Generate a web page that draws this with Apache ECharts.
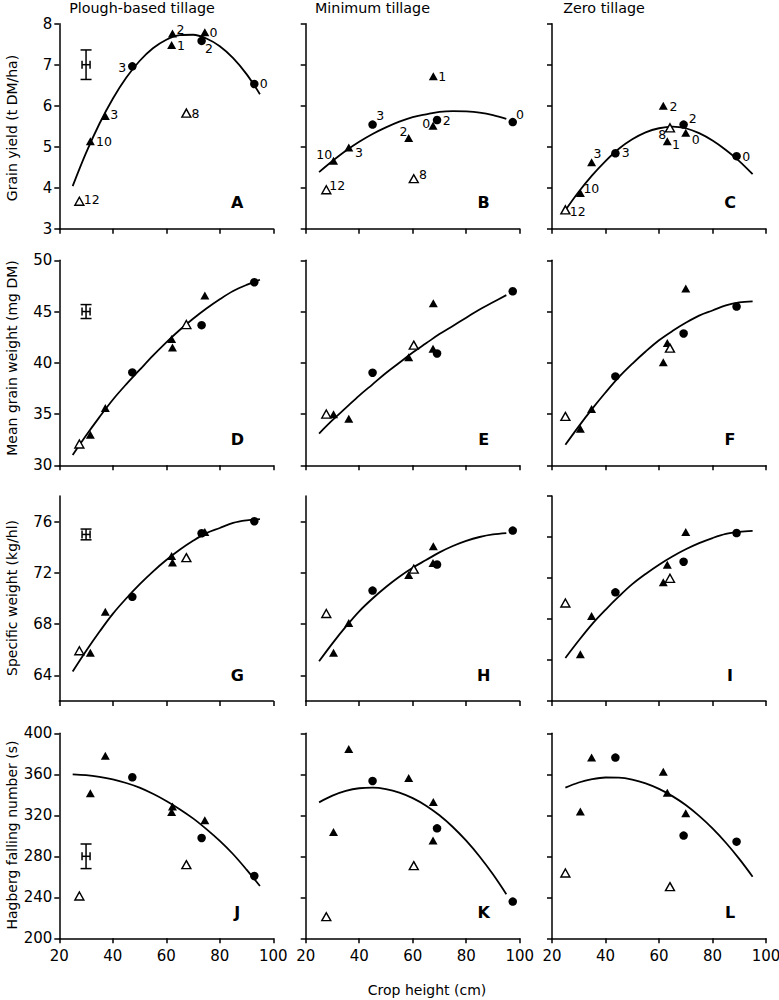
<!DOCTYPE html>
<html><head><meta charset="utf-8">
<script src="https://cdn.jsdelivr.net/npm/echarts@6/dist/echarts.min.js"></script>
<style>html,body{margin:0;padding:0;background:#fff}#c{width:779px;height:1000px}</style>
</head><body><div id="c"></div>
<script>
// ---------------- DATA ----------------
// crop heights (cm) of the ten points in each tillage system
const heightPlough  = [27.5, 31.6, 37.2, 47.3, 62.0, 62.3, 67.5, 73.2, 74.4, 92.9];
const heightMinimum = [27.7, 30.4, 36.1, 45.0, 58.5, 60.4, 67.6, 67.7, 69.1, 97.4];
const heightZero    = [25.0, 30.6, 34.8, 43.7, 61.6, 63.1, 64.1, 69.2, 70.0, 89.0];
// marker kind for each point
const markerPlough  = ['open','tri','tri','circle','tri','tri','open','circle','tri','circle'];
const markerMinimum = ['open','tri','tri','circle','tri','open','tri','tri','circle','circle'];
const markerZero    = ['open','tri','tri','circle','tri','tri','open','circle','tri','circle'];
// point labels (shown in the grain-yield row)
const labelPlough  = ['12','10','3','3','1','2','8','2','0','0'];
const labelMinimum = ['12','10','3','3','2','8','0','1','2','0'];
const labelZero    = ['12','10','3','3','2','1','8','2','0','0'];

// Grain yield (t DM/ha)
const yieldPlough  = [3.67, 5.13, 5.75, 6.96, 7.48, 7.76, 5.82, 7.58, 7.79, 6.53];
const yieldMinimum = [3.95, 4.66, 4.98, 5.54, 5.21, 4.22, 5.51, 6.72, 5.65, 5.60];
const yieldZero    = [3.46, 3.87, 4.62, 4.84, 6.00, 5.13, 5.46, 5.54, 5.34, 4.77];
// Mean grain weight (mg DM)
const grainWtPlough  = [32.08, 32.99, 35.58, 39.06, 42.31, 41.49, 43.73, 43.67, 46.56, 47.86];
const grainWtMinimum = [35.00, 34.97, 34.55, 39.03, 40.55, 41.72, 41.36, 45.81, 40.91, 46.98];
const grainWtZero    = [34.77, 33.57, 35.49, 38.67, 40.06, 41.92, 41.43, 42.86, 47.24, 45.49];
// Specific weight (kg/hl)
const specWtPlough  = [65.92, 65.77, 68.96, 70.13, 73.32, 72.81, 73.19, 75.09, 75.20, 76.03];
const specWtMinimum = [68.83, 65.77, 68.08, 70.62, 71.84, 72.29, 72.78, 74.08, 72.65, 75.30];
const specWtZero    = [69.56, 64.55, 68.29, 70.60, 71.58, 73.30, 71.97, 73.59, 76.49, 76.39];
// Hagberg falling number (s)
const hagbergPlough  = [241.3, 341.5, 378.2, 357.1, 323.3, 328.5, 271.9, 297.9, 315.1, 260.8];
const hagbergMinimum = [221.1, 303.7, 384.7, 353.5, 356.4, 270.9, 295.3, 333.0, 307.3, 235.8];
const hagbergZero    = [263.7, 323.6, 376.3, 376.3, 362.6, 342.1, 250.4, 300.2, 322.0, 294.3];

// fitted curves, read at these crop heights
const curveHeight = [25, 30, 35, 40, 45, 50, 55, 60, 65, 70, 75, 80, 85, 90, 95];
const fitYieldPlough  = [4.04, 4.85, 5.56, 6.17, 6.68, 7.09, 7.40, 7.61, 7.72, 7.73, 7.64, 7.45, 7.16, 6.77, 6.28];
const fitYieldMinimum = [4.38, 4.65, 4.90, 5.12, 5.31, 5.47, 5.61, 5.72, 5.79, 5.85, 5.87, 5.86, 5.83, 5.77, 5.68];
const fitYieldZero    = [3.45, 3.90, 4.30, 4.65, 4.95, 5.18, 5.35, 5.45, 5.49, 5.45, 5.33, 5.15, 4.92, 4.65, 4.33];
const fitGrainPlough  = [31.0, 32.9, 34.7, 36.4, 37.9, 39.3, 40.7, 42.0, 43.2, 44.3, 45.3, 46.2, 47.0, 47.6, 48.1];
const fitGrainMinimum = [33.1, 34.4, 35.6, 36.8, 37.9, 39.0, 40.0, 41.0, 41.9, 42.8, 43.6, 44.4, 45.2, 45.9, 46.6];
const fitGrainZero    = [32.0, 33.8, 35.5, 37.1, 38.6, 39.9, 41.1, 42.2, 43.1, 43.9, 44.6, 45.1, 45.6, 45.9, 46.0];
const fitSpecPlough   = [64.3, 65.9, 67.4, 68.8, 70.0, 71.1, 72.1, 73.0, 73.8, 74.5, 75.1, 75.5, 75.9, 76.1, 76.2];
const fitSpecMinimum  = [65.1, 66.5, 67.8, 69.0, 70.0, 70.9, 71.7, 72.4, 73.0, 73.6, 74.1, 74.5, 74.8, 75.0, 75.1];
const fitSpecZero     = [64.2, 65.9, 67.5, 68.9, 70.2, 71.4, 72.4, 73.3, 74.1, 74.8, 75.4, 75.9, 76.3, 76.5, 76.6];
const fitHagbergPlough  = [360.0, 359.2, 357.5, 355.0, 351.5, 347.0, 341.0, 334.0, 326.0, 317.0, 306.5, 295.0, 282.0, 267.0, 251.0];
const fitHagbergMinimum = [332.6, 339.2, 343.8, 346.4, 347.0, 345.6, 342.2, 336.8, 329.4, 320.0, 308.6, 295.2, 279.8, 262.4, 243.0];
const fitHagbergZero    = [347.0, 352.0, 355.3, 356.9, 356.7, 354.8, 351.2, 345.8, 338.7, 330.0, 319.4, 307.2, 293.2, 277.5, 260.1];

// error bars in the plough column: [crop height, value, y error, x error]
const errYield   = [30, 7.0, 0.36, 1.5];
const errGrain   = [30, 45, 0.68, 1.5];
const errSpec    = [30, 75, 0.42, 1.5];
const errHagberg = [30, 280, 12, 1.5];

// text
const columnTitles = ['Plough-based tillage', 'Minimum tillage', 'Zero tillage'];
const rowNames = ['Grain yield (t DM/ha)', 'Mean grain weight (mg DM)', 'Specific weight (kg/hl)', 'Hagberg falling number (s)'];
const xName = 'Crop height (cm)';
const panelLetters = ['A','B','C','D','E','F','G','H','I','J','K','L'];

// ---------------- LAYOUT / STYLE ----------------
const FONT = 'DejaVu Sans';
const lefts = [59.3, 305.7, 552];
const tops = [23.7, 260.3, 496, 733.3];
const W = 214, H = 205;
// label offsets (px, text centre relative to marker centre) for the yield row
const labelOffsetPlough  = [[12.3,-1.3],[13.7,0],[9,-1.7],[-10,1.3],[9.3,0.7],[8,-4.3],[9,0],[7.3,7.7],[8.7,0],[9.3,-0.7]];
const labelOffsetMinimum = [[11,-4.3],[-9.3,-6.3],[10.3,4.7],[7.7,-8.7],[-5.3,-6.7],[9.3,-4],[-6.7,-2.7],[9,0.7],[9.7,0],[7.3,-7.3]];
const labelOffsetZero    = [[12.3,1.3],[11,-5],[6,-8.3],[10.3,-1],[10.3,0.7],[8.7,3],[-7.7,6.7],[9,-6.3],[10,6.3],[9.7,0]];

const columns = [
  {height: heightPlough, marker: markerPlough, label: labelPlough, offs: labelOffsetPlough},
  {height: heightMinimum, marker: markerMinimum, label: labelMinimum, offs: labelOffsetMinimum},
  {height: heightZero, marker: markerZero, label: labelZero, offs: labelOffsetZero}
];
const rowValues = [
  [yieldPlough, yieldMinimum, yieldZero],
  [grainWtPlough, grainWtMinimum, grainWtZero],
  [specWtPlough, specWtMinimum, specWtZero],
  [hagbergPlough, hagbergMinimum, hagbergZero]
];
const rowFits = [
  [fitYieldPlough, fitYieldMinimum, fitYieldZero],
  [fitGrainPlough, fitGrainMinimum, fitGrainZero],
  [fitSpecPlough, fitSpecMinimum, fitSpecZero],
  [fitHagbergPlough, fitHagbergMinimum, fitHagbergZero]
];
const rowErr = [errYield, errGrain, errSpec, errHagberg];

function yAxisCfg(row, col) {
  const base = {
    type: 'value', gridIndex: row*3+col,
    axisLine: {show: true, lineStyle: {color: '#000', width: 1.5}},
    axisTick: {show: true, inside: false, length: 5, lineStyle: {color: '#000', width: 1.5}},
    axisLabel: {show: col === 0, color: '#000', fontFamily: FONT, fontSize: 15, margin: 7},
    splitLine: {show: false}
  };
  if (row === 0) Object.assign(base, {min: 3, max: 8, interval: 1});
  if (row === 1) Object.assign(base, {min: 30, max: 50, interval: 5});
  if (row === 2) {
    if (col === 2) Object.assign(base, {min: 60, max: 80, interval: 4});
    else {
      Object.assign(base, {min: 62, max: 78});
      base.axisTick.customValues = [64, 68, 72, 76];
      base.axisLabel.customValues = [64, 68, 72, 76];
    }
  }
  if (row === 3) Object.assign(base, {min: 200, max: 400, interval: 40});
  return base;
}
function xAxisCfg(row, col) {
  return {
    type: 'value', gridIndex: row*3+col, min: 20, max: 100, interval: 20,
    axisLine: {show: true, onZero: false, lineStyle: {color: '#000', width: 1.5}},
    axisTick: {show: true, inside: false, length: 5, lineStyle: {color: '#000', width: 1.5}},
    axisLabel: {show: row === 3, color: '#000', fontFamily: FONT, fontSize: 15, margin: 10},
    splitLine: {show: false}
  };
}

const grids = [], xAxes = [], yAxes = [], series = [], graphics = [];
for (let r = 0; r < 4; r++) {
  for (let c = 0; c < 3; c++) {
    const i = r*3 + c;
    grids.push({left: lefts[c], top: tops[r], width: W, height: H, containLabel: false, outerBoundsMode: 'none'});
    xAxes.push(xAxisCfg(r, c));
    yAxes.push(yAxisCfg(r, c));
    const col = columns[c];
    const vals = rowValues[r][c];
    // fitted curve
    series.push({
      type: 'line', xAxisIndex: i, yAxisIndex: i, smooth: 0.35, symbol: 'none', silent: true, z: 2,
      lineStyle: {color: '#000', width: 1.8, opacity: 1},
      data: curveHeight.map((h, k) => [h, rowFits[r][c][k]])
    });
    const kinds = {
      circle: {symbol: 'circle', symbolSize: 8.5, itemStyle: {color: '#000', opacity: 1}},
      tri: {symbol: 'triangle', symbolSize: [9, 8], itemStyle: {color: '#000', opacity: 1}},
      open: {symbol: 'triangle', symbolSize: [9, 8], itemStyle: {color: '#fff', borderColor: '#000', borderWidth: 1.4, opacity: 1}}
    };
    Object.keys(kinds).forEach(kind => {
      const data = [];
      col.height.forEach((h, k) => {
        if (col.marker[k] !== kind) return;
        const item = {value: [h, vals[k]], name: col.label[k]};
        if (r === 0) item.label = {offset: col.offs[k]};
        data.push(item);
      });
      series.push(Object.assign({
        type: 'scatter', xAxisIndex: i, yAxisIndex: i, z: 3, silent: true,
        label: {show: r === 0, position: 'inside', formatter: p => p.name, color: '#000', opacity: 1,
                fontFamily: FONT, fontSize: 12.5, textBorderWidth: 0},
        data: data
      }, kinds[kind]));
    });
    if (c === 0) {
      series.push({
        type: 'custom', xAxisIndex: i, yAxisIndex: i, z: 3, silent: true,
        encode: {x: 0, y: 1},
        data: [rowErr[r]],
        renderItem: function (params, api) {
          const x = api.value(0), y = api.value(1), ey = api.value(2), ex = api.value(3);
          const ctr = api.coord([x, y]);
          const t = api.coord([x, y + ey])[1], b = api.coord([x, y - ey])[1];
          const lx = api.coord([x - ex, y])[0], rx = api.coord([x + ex, y])[0];
          const cw = 5.5, ch = 4;
          const st = {stroke: '#000', lineWidth: 1.5, fill: null};
          const L = (x1, y1, x2, y2) => ({type: 'line', shape: {x1, y1, x2, y2}, style: st});
          return {type: 'group', children: [
            L(ctr[0], t, ctr[0], b), L(ctr[0]-cw, t, ctr[0]+cw, t), L(ctr[0]-cw, b, ctr[0]+cw, b),
            L(lx, ctr[1], rx, ctr[1]), L(lx, ctr[1]-ch, lx, ctr[1]+ch), L(rx, ctr[1]-ch, rx, ctr[1]+ch)
          ]};
        }
      });
    }
    graphics.push({
      type: 'text', x: lefts[c] + 178, y: tops[r] + H - 26, silent: true,
      style: {text: panelLetters[i], font: 'bold 16px "' + FONT + '"', fill: '#000',
              textAlign: 'center', textVerticalAlign: 'middle', align: 'center', verticalAlign: 'middle'}
    });
  }
}
const titleX = [142, 372.5, 604];
columnTitles.forEach((t, c) => graphics.push({
  type: 'text', x: titleX[c], y: 8, silent: true,
  style: {text: t, font: '14.3px "' + FONT + '"', fill: '#000',
          textAlign: 'center', textVerticalAlign: 'middle', align: 'center', verticalAlign: 'middle'}
}));
const nameY = [128, 358, 598, 835];
rowNames.forEach((t, r) => graphics.push({
  type: 'text', x: 12, y: nameY[r], rotation: Math.PI / 2, silent: true,
  style: {text: t, font: '14px "' + FONT + '"', fill: '#000',
          textAlign: 'center', textVerticalAlign: 'middle', align: 'center', verticalAlign: 'middle'}
}));
graphics.push({
  type: 'text', x: 427, y: 990, silent: true,
  style: {text: xName, font: '14px "' + FONT + '"', fill: '#000',
          textAlign: 'center', textVerticalAlign: 'middle', align: 'center', verticalAlign: 'middle'}
});

const chart = echarts.init(document.getElementById('c'), null, {renderer: 'svg'});
chart.setOption({
  animation: false,
  backgroundColor: '#fff',
  grid: grids, xAxis: xAxes, yAxis: yAxes, series: series, graphic: graphics
});
</script></body></html>
